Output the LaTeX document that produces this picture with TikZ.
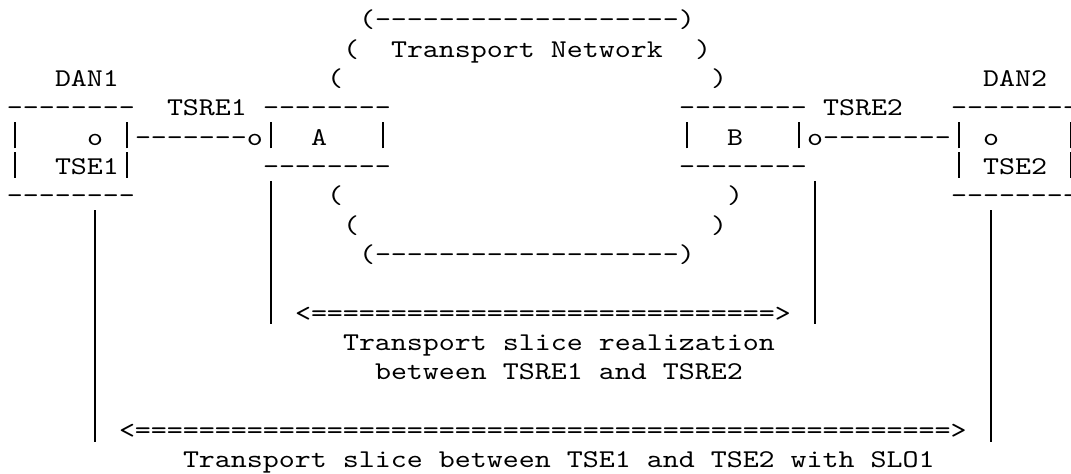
\documentclass[tikz,border=0pt]{standalone}
\usepackage{fontspec}
\newfontfamily\asciifont{lmmono10-regular.otf}[FakeStretch=1.19,Ligatures={TeXOff,CommonOff}]
\newcommand\vbar{\makebox[6pt]{\rule[-1.2pt]{0.6pt}{9.76pt}}}
\begin{document}
\begin{tikzpicture}[x=6pt,y=-11pt,
  txt/.style={anchor=base west,inner sep=0pt,outer sep=0pt,font=\asciifont\fontsize{9.6}{11}\selectfont},
  bar/.style={line width=0.6pt}]
\useasboundingbox (-0.4375,0.052) rectangle (66.5,16.211);

% transport network
\node[txt] (top) at (22,1) {(-------------------)};
\node[txt] (cl0) at (21,2) {(};
\node[txt] (tn) at (24,2) {Transport Network};
\node[txt] (cr0) at (43,2) {)};
\node[txt] (dan1) at (3,3) {DAN1};
\node[txt] (cl1) at (20,3) {(};
\node[txt] (cr1) at (44,3) {)};
\node[txt] (dan2) at (61,3) {DAN2};

% boxes
\node[txt] (dan1top) at (0,4) {--------};
\node[txt] (tsre1) at (10,4) {TSRE1};
\node[txt] (atop) at (16,4) {--------};
\node[txt] (btop) at (42,4) {--------};
\node[txt] (tsre2) at (51,4) {TSRE2};
\node[txt] (dan2top) at (59,4) {--------};

\node[txt] (dan1left) at (0,5) {\vbar};
\node[txt] (tse1port) at (5,5) {o};
\node[txt] (link1) at (7,5) {\vbar-------o\vbar};
\node[txt] (a) at (19,5) {A};
\node[txt] (aright) at (23,5) {\vbar};
\node[txt] (bleft) at (42,5) {\vbar};
\node[txt] (b) at (45,5) {B};
\node[txt] (link2) at (49,5) {\vbar o--------\vbar};
\node[txt] (tse2port) at (61,5) {o};
\node[txt] (dan2right) at (66,5) {\vbar};

\node[txt] (dan1side) at (0,6) {\vbar};
\node[txt] (tse1) at (3,6) {TSE1\vbar};
\node[txt] (abot) at (16,6) {--------};
\node[txt] (bbot) at (42,6) {--------};
\node[txt] (dan2side) at (59,6) {\vbar};
\node[txt] (tse2) at (61,6) {TSE2};
\node[txt] (dan2end) at (66,6) {\vbar};

\node[txt] (dan1bot) at (0,7) {--------};
\node[txt] (cl2) at (20,7) {(};
\node[txt] (cr2) at (45,7) {)};
\node[txt] (dan2bot) at (59,7) {--------};
\node[txt] (cl3) at (21,8) {(};
\node[txt] (cr3) at (44,8) {)};
\node[txt] (bottom) at (22,9) {(-------------------)};

% slices
\node[txt] (inner) at (18,11) {<=============================>};
\node[txt] (innerlabel) at (21,12) {Transport slice realization};
\node[txt] (innerlabel2) at (23,13) {between TSRE1 and TSRE2};
\node[txt] (outer) at (7,15) {<===================================================>};
\node[txt] (outerlabel) at (11,16) {Transport slice between TSE1 and TSE2 with SLO1};

\coordinate (tse1a) at (5.5,7.222);
\coordinate (tse1b) at (5.5,15.109);
\coordinate (tse2a) at (61.5,7.222);
\coordinate (tse2b) at (61.5,15.109);
\coordinate (tsre1a) at (16.5,6.222);
\coordinate (tsre1b) at (16.5,11.109);
\coordinate (tsre2a) at (50.5,6.222);
\coordinate (tsre2b) at (50.5,11.109);

\draw[bar] (tse1a) -- (tse1b);
\draw[bar] (tse2a) -- (tse2b);
\draw[bar] (tsre1a) -- (tsre1b);
\draw[bar] (tsre2a) -- (tsre2b);
\end{tikzpicture}
\end{document}
